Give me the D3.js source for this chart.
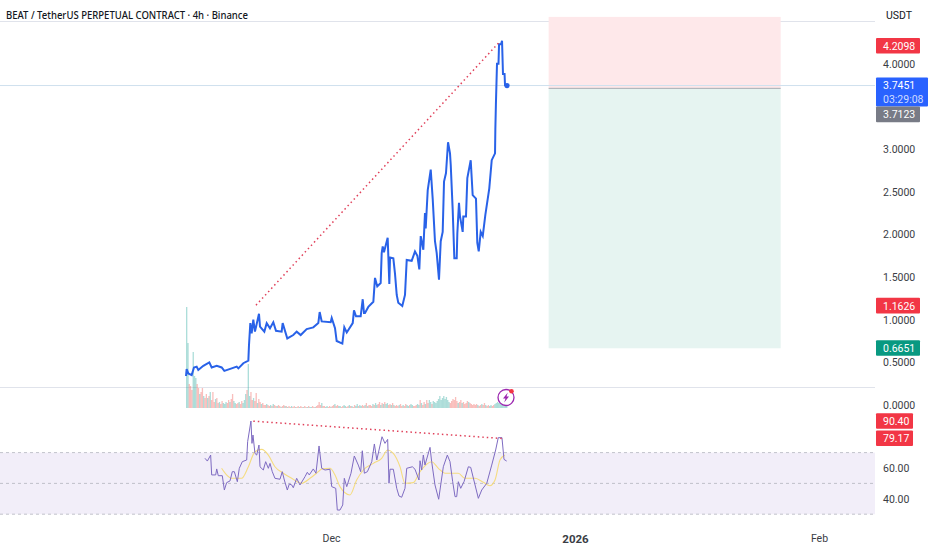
<!DOCTYPE html>
<html>
<head>
<meta charset="utf-8">
<script src="https://cdn.jsdelivr.net/npm/d3@7"></script>
<style>
    body { margin: 0; background: #fff; }
    text { font-family: Roboto, sans-serif; }
    .domain { display: none; }
</style>
</head>
<body>
<script>
// all x values are days counted from 1 Dec 2025
const priceDays = [-18.42,-18.34,-18.13,-17.7,-17.41,-17.07,-16.86,-16.22,-15.46,-15.16,-14.52,-13.89,-13.55,-12.62,-11.98,-11.77,-11.14,-10.5,-10.42,-10.25,-10.08,-9.87,-9.66,-9.15,-9.02,-8.47,-8.17,-7.75,-7.33,-6.99,-6.27,-6.14,-5.55,-4.79,-4.36,-3.85,-3.09,-2.25,-1.61,-1.44,-1.18,-0.04,0.09,0.51,0.72,1.44,1.69,2.0,2.76,2.92,3.18,3.77,4.03,4.19,4.32,4.74,5.38,5.59,5.88,6.31,6.44,6.57,6.73,7.2,7.41,7.5,7.92,8.13,8.35,8.55,9.06,9.4,9.62,10.25,10.67,10.97,11.22,11.4,11.73,11.94,12.03,12.29,12.67,12.92,13.21,13.43,13.72,13.94,14.19,14.36,14.61,14.87,15.12,15.21,15.46,15.67,15.97,16.05,16.26,16.39,16.73,16.81,17.15,17.32,17.75,18.0,18.42,18.59,18.77,19.02,19.28,19.61,20.11,20.42,20.84,20.88,20.95,21.09,21.28,21.35,21.6,21.73,21.85,22.05,22.11,22.36];
const priceValues = [0.34,0.42,0.37,0.35,0.44,0.45,0.41,0.46,0.50,0.44,0.46,0.44,0.40,0.43,0.45,0.43,0.49,0.52,0.70,0.96,0.84,1.0,0.86,1.07,0.92,0.86,0.96,0.90,0.97,0.87,0.86,0.96,0.78,0.82,0.86,0.82,0.89,0.91,0.96,1.09,0.98,0.97,1.02,0.90,0.75,0.72,0.91,0.85,0.96,1.11,1.04,1.04,1.24,1.08,1.08,1.15,1.21,1.49,1.39,1.43,1.78,1.86,1.79,1.96,1.42,1.73,1.72,1.54,1.29,1.20,1.16,1.29,1.70,1.69,1.80,1.75,1.59,1.98,1.82,2.25,2.07,2.52,2.76,2.42,1.92,1.78,1.47,1.92,2.03,2.62,2.72,3.08,2.95,2.82,2.29,1.72,1.72,2.01,2.37,2.21,2.03,2.21,2.21,2.66,2.87,2.46,2.42,1.90,1.80,2.03,1.98,2.23,2.54,2.87,2.95,3.23,3.52,4.0,4.0,4.23,4.23,4.27,3.88,3.88,3.75,3.7451];

const volumeStart = -18.42; // one bar every 4h
const volumes = [101,65,24,22,18,56,32,30,24,20,14,16,20,12,10,14,10,12,16,8,
    16,6,9,10,5,6,4,7,5,4,6,5,8,6,9,14,7,5,4,5,
    6,4,7,5,8,14,18,44,12,16,8,10,7,15,5,9,6,4,5,3,
    3,4,3,2,3,2,4,3,2,2,3,2,1,2,3,2,2,1,2,1,
    2,1,2,1,1,2,1,2,1,1,2,1,1,2,1,1,2,1,1,2,
    3,6,3,5,2,2,1,2,1,2,1,2,3,4,2,3,2,2,1,2,
    3,2,1,2,3,2,2,1,3,2,4,2,3,2,3,2,3,5,2,3,
    3,2,4,3,5,3,4,6,3,5,4,6,4,5,3,4,3,5,3,2,
    3,2,3,4,2,3,2,4,3,2,3,4,3,2,2,3,4,3,8,5,
    3,6,4,8,5,8,6,4,7,6,5,7,9,12,8,10,12,9,11,8,
    6,5,7,9,8,11,7,5,6,8,5,6,4,5,7,6,5,4,3,4,
    3,4,3,2,3,4,3,5,3,2,3,2,3,2,3,4,5,6,5,7,
    7,8,6,5,4];
const volumeDirs = ('uuddduuuddudduddudud' + 'dduddudduuuddudduudd' + 'udduuuduuddudduddudd' + 'duddududdudduddududd'
    + 'uddudduddudduduuddud' + 'dddudduudduddudduudd' + 'uuddududduuduuddudud' + 'dduduuddududuuddudud'
    + 'dduddudduuduuddduudu' + 'ddudduuduuuuuuuuuuuu' + 'uddddddudduddddudddd' + 'ddudduddudduudduuuuu' + 'uuuuu');

const rsiDays = [-16.01,-15.71,-15.29,-15.16,-14.65,-14.52,-14.32,-13.81,-13.55,-13.26,-12.83,-12.54,-12.28,-11.9,-11.65,-11.27,-10.71,-10.59,-10.17,-10.04,-9.91,-9.66,-9.44,-9.15,-9.02,-8.6,-8.3,-7.96,-7.75,-7.46,-7.12,-6.48,-6.19,-5.93,-5.55,-5.3,-4.99,-4.79,-4.36,-3.94,-3.3,-3.01,-2.76,-2.25,-1.91,-1.52,-1.18,-0.76,-0.13,0.09,0.6,0.8,1.14,1.49,1.69,2.0,2.54,2.96,3.47,3.77,3.98,4.24,4.62,5.18,5.51,5.82,6.48,6.86,7.2,7.37,7.5,7.92,8.35,8.64,8.98,9.4,9.62,10.34,10.67,11.18,11.31,11.52,11.73,11.94,12.58,12.79,13.21,13.68,14.27,14.78,15.12,15.46,15.76,15.97,16.18,16.48,16.9,17.45,17.75,18.3,18.72,19.15,19.79,20.42,20.92,21.25,21.72,21.98,22.32];
const rsiValues = [66.3,64.5,68.4,55.5,55.5,59.4,55,55,45.7,50.5,51.6,57.6,57.6,51.1,59.8,64.1,65.2,77.1,90.5,76,81.4,69.5,68.4,74.9,60.8,58.7,64.1,59.8,63,57.6,53.3,52.7,57.6,52.2,45.7,49.6,49,47.2,53.3,49,54.4,57.2,55.5,59.4,56.6,74.3,59.8,58.7,59.2,47.9,46.8,32.7,32.7,36,53.3,47.9,56.6,67.8,61.9,57.6,71.2,56.6,57.6,64.1,75.6,65.2,80.3,76,78.6,50.1,59.2,59.2,46.8,41.8,41,46.8,59.8,60.8,59.2,52.2,64.7,58.7,68.4,61.9,73.4,64.1,49,39.7,60.8,68.4,64.1,51.1,41.4,41.4,51.1,46.8,51.1,60.8,60.4,49,40.3,45.7,50.1,61.9,71.7,79.7,79.7,65.6,64.5];

const rsiMaDays = [-13.9,-13.26,-12.62,-11.35,-10.5,-9.66,-8.81,-7.96,-7.12,-6.06,-5,-3.73,-2.67,-1.61,-1.18,-0.13,0.51,1.14,2.41,3.26,4.11,5.38,6.44,7.2,7.92,8.77,9.4,10.46,11.31,12.79,13.64,14.49,16.18,17.03,18.3,19.36,20.2,20.84,21.47,22.1];
const rsiMaValues = [59.8,55.5,53.3,53.3,60.8,70.6,72.1,68.4,60.8,56.6,53.3,50.1,53.3,57.6,59.4,59.8,55.5,47.9,42.5,52.2,58.7,63,66.3,71.7,69.5,60.8,50.1,50.5,57.6,64.1,59.8,56.6,56.6,53.3,53.3,50.7,48.5,52.2,65.2,68.4];

const priceTicks = [0, 0.5, 1, 1.5, 2, 2.5, 3, 4];
const rsiTicks = [40, 60];
const rsiLevels = [70, 50, 30];
const timeTicks = [0, 31, 62];
const timeLabels = ['Dec', '2026', 'Feb'];

const trendDays = [-9.53, 21.35];
const trendPrices = [1.17, 4.25];
const rsiTrendDays = [-9.87, 21.69];
const rsiTrendValues = [90.4, 79.17];

const boxDays = [27.65, 57.13];
const boxTop = 4.55;
const boxEntry = 3.7123;
const boxBottom = 0.6651;
const lastPrice = 3.7451;

const priceLabels = [
    { v: 4.2098, text: '4.2098', fill: '#f23645' },
    { v: 1.1626, text: '1.1626', fill: '#f23645' },
    { v: 0.6651, text: '0.6651', fill: '#089981' }
];
const rsiLabels = [
    { v: 90.4, text: '90.40' },
    { v: 79.17, text: '79.17' }
];

drawChart();

function drawChart()
{
    const width = 932;
    const height = 550;
    const paneRight = 875;
    const fontSize = '10.5px';

    const svg = d3.select('body')
        .append('svg')
        .attr('width', width)
        .attr('height', height)
        .style('display', 'block');

    const dayToDate = d => new Date(Date.UTC(2025, 11, 1) + d * 864e5);

    // scales
    const x = d3.scaleUtc()
        .domain([dayToDate(0), dayToDate(31)])
        .range([331, 575]);
    const y = d3.scaleLinear().domain([0, 4]).range([405, 63.8]);
    const yRsi = d3.scaleLinear().domain([40, 60]).range([498.8, 468]);
    const yVolume = d3.scaleLinear().domain([0, 101]).range([408, 307]);

    // pane lines
    svg.append('line')
        .attr('x1', 0).attr('x2', paneRight)
        .attr('y1', 21.5).attr('y2', 21.5)
        .attr('stroke', '#e0e3eb');
    svg.append('line')
        .attr('x1', 0).attr('x2', paneRight)
        .attr('y1', 387.5).attr('y2', 387.5)
        .attr('stroke', '#e0e3eb');

    // position box
    svg.append('rect')
        .attr('x', x(dayToDate(boxDays[0])))
        .attr('y', y(boxTop))
        .attr('width', x(dayToDate(boxDays[1])) - x(dayToDate(boxDays[0])))
        .attr('height', y(boxEntry) - y(boxTop))
        .attr('fill', '#fee8ea');
    svg.append('rect')
        .attr('x', x(dayToDate(boxDays[0])))
        .attr('y', y(boxEntry))
        .attr('width', x(dayToDate(boxDays[1])) - x(dayToDate(boxDays[0])))
        .attr('height', y(boxBottom) - y(boxEntry))
        .attr('fill', '#e6f4f1');
    svg.append('line')
        .attr('x1', x(dayToDate(boxDays[0])))
        .attr('x2', x(dayToDate(boxDays[1])))
        .attr('y1', y(boxEntry)).attr('y2', y(boxEntry))
        .attr('stroke', '#a8aab2');

    // last price line
    svg.append('line')
        .attr('x1', 0).attr('x2', paneRight)
        .attr('y1', y(lastPrice)).attr('y2', y(lastPrice))
        .attr('stroke', '#cfe0ee');

    // volume bars
    svg.selectAll('rect.volume')
        .data(volumes)
        .enter()
        .append('rect')
        .attr('class', 'volume')
        .attr('x', (d, i) => x(dayToDate(volumeStart + i / 6)))
        .attr('y', d => yVolume(d))
        .attr('width', 1.31)
        .attr('height', d => yVolume(0) - yVolume(d))
        .attr('fill', (d, i) => volumeDirs[i] === 'u' ? '#26a69a' : '#ef5350')
        .attr('opacity', 0.38);

    // price line
    const priceLine = d3.line()
        .x(d => x(dayToDate(d)))
        .y((d, i) => y(priceValues[i]));
    svg.append('path')
        .attr('d', priceLine(priceDays))
        .attr('fill', 'none')
        .attr('stroke', '#2962e8')
        .attr('stroke-width', 2);
    svg.append('circle')
        .attr('cx', x(dayToDate(priceDays[priceDays.length - 1])))
        .attr('cy', y(lastPrice))
        .attr('r', 2.6)
        .attr('fill', '#2962e8');

    // trend lines
    svg.append('line')
        .attr('x1', x(dayToDate(trendDays[0])))
        .attr('x2', x(dayToDate(trendDays[1])))
        .attr('y1', y(trendPrices[0]))
        .attr('y2', y(trendPrices[1]))
        .attr('stroke', '#e0405a')
        .attr('stroke-width', 1.5)
        .attr('stroke-dasharray', '1.5 3');

    // rsi band
    svg.append('rect')
        .attr('x', 0)
        .attr('y', yRsi(rsiLevels[0]))
        .attr('width', paneRight)
        .attr('height', yRsi(rsiLevels[2]) - yRsi(rsiLevels[0]))
        .attr('fill', '#7e57c2')
        .attr('opacity', 0.1);
    svg.selectAll('line.rsi-level')
        .data(rsiLevels)
        .enter()
        .append('line')
        .attr('class', 'rsi-level')
        .attr('x1', 0).attr('x2', paneRight)
        .attr('y1', d => yRsi(d)).attr('y2', d => yRsi(d))
        .attr('stroke', '#b2b5be')
        .attr('stroke-dasharray', '3 3')
        .attr('stroke-width', 0.8);

    // rsi and its average
    const rsiLine = d3.line()
        .x(d => x(dayToDate(d)))
        .y((d, i) => yRsi(rsiValues[i]));
    const rsiMaLine = d3.line()
        .x(d => x(dayToDate(d)))
        .y((d, i) => yRsi(rsiMaValues[i]))
        .curve(d3.curveMonotoneX);
    svg.append('path')
        .attr('d', rsiMaLine(rsiMaDays))
        .attr('fill', 'none')
        .attr('stroke', '#f5dc80')
        .attr('stroke-width', 1.1);
    svg.append('path')
        .attr('d', rsiLine(rsiDays))
        .attr('fill', 'none')
        .attr('stroke', '#7e6bc2')
        .attr('stroke-width', 1);
    svg.append('line')
        .attr('x1', x(dayToDate(rsiTrendDays[0])))
        .attr('x2', x(dayToDate(rsiTrendDays[1])))
        .attr('y1', yRsi(rsiTrendValues[0]))
        .attr('y2', yRsi(rsiTrendValues[1]))
        .attr('stroke', '#e0405a')
        .attr('stroke-width', 1.5)
        .attr('stroke-dasharray', '1.5 3');

    // lightning icon
    const icon = svg.append('g').attr('transform', 'translate(506,397.5)');
    icon.append('circle')
        .attr('r', 8)
        .attr('fill', '#fff')
        .attr('stroke', '#9c27b0')
        .attr('stroke-width', 1.3);
    icon.append('path')
        .attr('d', 'M1.8,-5 L-3,1 L-0.5,1 L-1.8,5 L3,-1 L0.5,-1 Z')
        .attr('fill', '#9c27b0');
    icon.append('circle')
        .attr('cx', 5.5).attr('cy', -6.3)
        .attr('r', 2.3)
        .attr('fill', '#f23645');

    // axes
    const priceAxis = svg.append('g')
        .attr('transform', `translate(${paneRight},0)`)
        .call(d3.axisRight(y).tickValues(priceTicks).tickSize(0).tickPadding(8).tickFormat(d3.format('.4f')));
    const rsiAxis = svg.append('g')
        .attr('transform', `translate(${paneRight},0)`)
        .call(d3.axisRight(yRsi).tickValues(rsiTicks).tickSize(0).tickPadding(8).tickFormat(d3.format('.2f')));
    const timeAxis = svg.append('g')
        .attr('transform', 'translate(0,532)')
        .call(d3.axisBottom(x).tickValues(timeTicks.map(dayToDate)).tickSize(0).tickPadding(3)
            .tickFormat((d, i) => timeLabels[i]));

    [priceAxis, rsiAxis, timeAxis].forEach(axis =>
    {
        axis.selectAll('text')
            .attr('fill', '#3a3d45')
            .style('font-family', 'Roboto, sans-serif')
            .style('font-size', fontSize);
    });
    timeAxis.selectAll('text').filter((d, i) => i === 1)
        .style('font-weight', 700)
        .style('font-size', '11.5px');

    // price tags on the scale
    const tags = svg.selectAll('g.tag')
        .data(priceLabels)
        .enter()
        .append('g')
        .attr('class', 'tag')
        .attr('transform', d => `translate(${paneRight + 1},${y(d.v)})`);
    tags.append('rect')
        .attr('y', -8)
        .attr('width', 44)
        .attr('height', 15.6)
        .attr('rx', 1)
        .attr('fill', d => d.fill);
    tags.append('text')
        .attr('x', 7)
        .attr('y', 3.8)
        .attr('fill', '#fff')
        .style('font-size', fontSize)
        .text(d => d.text);

    const rsiTags = svg.selectAll('g.rsi-tag')
        .data(rsiLabels)
        .enter()
        .append('g')
        .attr('class', 'rsi-tag')
        .attr('transform', d => `translate(${paneRight + 1},${yRsi(d.v)})`);
    rsiTags.append('rect')
        .attr('y', -8)
        .attr('width', 37)
        .attr('height', 15.6)
        .attr('rx', 1)
        .attr('fill', '#f23645');
    rsiTags.append('text')
        .attr('x', 7)
        .attr('y', 3.8)
        .attr('fill', '#fff')
        .style('font-size', fontSize)
        .text(d => d.text);

    // last price tag with countdown, the entry tag gets pushed below it
    const lastTag = svg.append('g')
        .attr('transform', `translate(${paneRight + 1},${y(lastPrice)})`);
    lastTag.append('rect')
        .attr('y', -8)
        .attr('width', 52)
        .attr('height', 29)
        .attr('rx', 1)
        .attr('fill', '#2962ff');
    lastTag.append('text')
        .attr('x', 7)
        .attr('y', 3.5)
        .attr('fill', '#fff')
        .style('font-size', fontSize)
        .text('3.7451');
    lastTag.append('text')
        .attr('x', 7)
        .attr('y', 17)
        .attr('fill', '#cfdcff')
        .style('font-size', fontSize)
        .text('03:29:08');
    lastTag.append('rect')
        .attr('y', 21)
        .attr('width', 44)
        .attr('height', 15.6)
        .attr('rx', 1)
        .attr('fill', '#787b86');
    lastTag.append('text')
        .attr('x', 7)
        .attr('y', 32.8)
        .attr('fill', '#fff')
        .style('font-size', fontSize)
        .text(d3.format('.4f')(boxEntry));

    // title and currency
    svg.append('text')
        .attr('x', 6)
        .attr('y', 19)
        .attr('fill', '#131722')
        .attr('textLength', 242)
        .attr('lengthAdjust', 'spacingAndGlyphs')
        .style('font-family', '"Noto Sans", sans-serif')
        .style('font-weight', 500)
        .style('font-size', '11.5px')
        .text('BEAT / TetherUS PERPETUAL CONTRACT · 4h · Binance');
    svg.append('text')
        .attr('x', 886)
        .attr('y', 19)
        .attr('fill', '#131722')
        .style('font-size', fontSize)
        .text('USDT');
}
</script>
</body>
</html>
